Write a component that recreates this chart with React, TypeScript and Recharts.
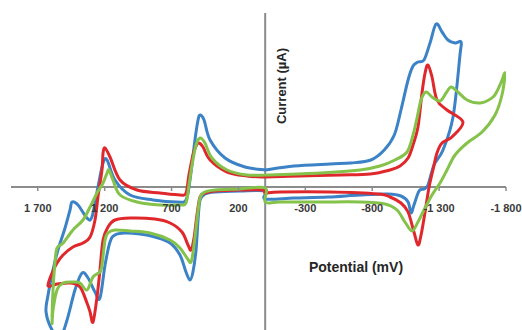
import { LineChart, Line, XAxis, YAxis, ReferenceLine } from "recharts";

// potential (mV) / current (µA) pairs, one closed loop per scan, starting at 0 mV
const BLUE_E = [
  0, -215, -485, -640, -790, -890, -965, -1015, -1068, -1105, -1142, -1187, -1232, -1277, -1322, -1366, -1419, -1464,
  -1456, -1404, -1329, -1262, -1217, -1187, -1150, -1112, -1090, -1068, -1015, -918, -709, -470, -215, 0,
  0, 188, 375, 450, 487, 502, 517, 540, 562, 592, 637, 711, 824, 936, 1048, 1123, 1160, 1197, 1235, 1272, 1324, 1369, 1422, 1481, 1534, 1593, 1638,
  1623, 1586, 1549, 1496, 1459, 1444, 1399, 1332, 1295, 1250, 1212, 1182, 1123, 1010, 839, 659, 592, 562, 525, 502, 487, 457, 412, 300, 151, 0,
];
const BLUE_I = [
  0.75, 1.75, 2.25, 2.5, 3.25, 5.75, 9.5, 15.75, 23.25, 26.75, 27.75, 28.25, 32.5, 37.25, 35.25, 33.25, 32.5, 32.75,
  29.5, 14, 5.75, 2, -3, -4, -4.5, -8, -10, -7.25, -5.75, -5.25, -5.5, -6, -6.25, -6.5,
  -4.5, -4.5, -4.75, -5.25, -6.75, -11.75, -19.25, -24.75, -26.75, -24.75, -20.5, -17.5, -16, -15.25, -15, -15.5, -17.25, -23, -31.25, -29.75, -26.25, -25, -29.25, -36.75, -41.25, -39.25, -34.75,
  -30.5, -24.25, -19.25, -13.75, -9.25, -7.25, -8, -11.25, -11, -3.5, 2.5, 3.25, -1.75, -5.5, -6.75, -7.25, -6.75, -1.75, 8.25, 13.25, 14.5, 13.25, 8.25, 3.75, 1.5, 0.75,
];

const RED_E = [
  0, -260, -560, -785, -933, -1008, -1068, -1105, -1142, -1172, -1195, -1217, -1247, -1284, -1359, -1478,
  -1396, -1322, -1284, -1254, -1225, -1195, -1165, -1142, -1112, -1068, -1015, -933, -843, -485, -110, 0,
  0, 188, 375, 450, 487, 510, 532, 554, 577, 622, 711, 824, 1010, 1123, 1175, 1212, 1235, 1257, 1287, 1309, 1332, 1384, 1459, 1556, 1623,
  1593, 1556, 1511, 1437, 1362, 1309, 1272, 1250, 1220, 1212, 1197, 1160, 1085, 958, 786, 637, 592, 570, 540, 517, 495, 465, 412, 285, 136, 0,
];
const RED_I = [
  -1, -0.75, -0.5, -0.25, 0.75, 1.75, 3.75, 7, 11.5, 20, 25, 27, 24, 18.25, 15.75, 12.75,
  9, 7.5, 5, 0.75, -3.5, -9.75, -15.5, -18, -14.75, -9.75, -7.5, -6, -5.25, -4.75, -4.75, -5,
  -4.25, -4.25, -4.5, -5, -6, -10.5, -16.25, -19.25, -18, -14.75, -12.5, -11.5, -11.25, -11.75, -13.5, -16.75, -24.25, -31, -37.25, -34.75, -32.5, -28.5, -27.5, -27.75, -28.25,
  -25, -22.5, -20.5, -18.5, -17.5, -16, -11.75, -6, 0.75, 5, 6.25, 4, -1.75, -4.25, -5, -5.5, -5, -0.5, 4.5, 6.75, 7.5, 6.5, 3.25, 0.25, -0.75, -1,
];

const GREEN_E = [
  0, -410, -710, -858, -970, -1060, -1105, -1135, -1165, -1202, -1247, -1307, -1352, -1389, -1441, -1509, -1606, -1703, -1755, -1793,
  -1770, -1718, -1621, -1509, -1419, -1359, -1307, -1247, -1187, -1142, -1097, -1045, -985, -896, -709, -410, -110, 0,
  0, 188, 375, 450, 487, 510, 532, 554, 584, 637, 711, 861, 1010, 1123, 1175, 1197, 1220, 1235, 1287, 1332, 1384, 1437, 1511, 1556, 1586, 1593,
  1586, 1571, 1556, 1511, 1437, 1362, 1309, 1257, 1212, 1182, 1167, 1138, 1085, 958, 786, 637, 592, 570, 547, 517, 487, 450, 398, 285, 136, 0,
];
const GREEN_I = [
  -0.5, 0, 0.75, 1.75, 3.25, 5.25, 9.5, 13.75, 18.25, 20.25, 19, 18, 20, 21.5, 20.25, 18.25, 17.5, 19, 22, 25,
  19.5, 14.5, 10.25, 7.5, 4.5, 0.75, -2.5, -5.5, -9.25, -12.25, -14.5, -12.25, -9.25, -7.75, -7.25, -7.25, -7.25, -7.25,
  -3.75, -4, -4.25, -4.75, -6.25, -11.75, -18, -22.25, -21.25, -18.75, -16.75, -15, -14.5, -14.25, -15, -16.75, -23, -24.75, -26, -29.25, -27.5, -27.25, -27.5, -29.25, -34.25, -37.5,
  -29.25, -22.25, -18.75, -17.5, -14.25, -11.75, -8.5, -5, -2.5, 0, 0.75, -1.75, -5.5, -7.25, -8, -8, -7.5, -3, 2, 7, 8.75, 7.5, 3.75, 0.75, -0.5, -0.5,
];

const X_TICKS = [1700, 1200, 700, 200, -300, -800, -1300, -1800];
const Y_TICKS = [40, 20, 0, -20];

const E_MIN = -1800;
const E_MAX = 1900;
const I_MIN = -40;
const I_MAX = 40;
const AXIS_CROSS_I = -3.5; // horizontal axis sits a little below zero current

const W = 522;
const H = 340;
const MARGIN = { top: 13, right: 16, bottom: 6, left: 11 };
const X_AXIS_H = 1;
const PLOT_W = W - MARGIN.left - MARGIN.right;
const PLOT_H = H - MARGIN.top - MARGIN.bottom - X_AXIS_H;
const CROSS_Y = MARGIN.top + ((I_MAX - AXIS_CROSS_I) / (I_MAX - I_MIN)) * PLOT_H;
const ZERO_X = MARGIN.left + (E_MAX / (E_MAX - E_MIN)) * PLOT_W;

const AXIS_COLOR = "#8c8c8c";
const FONT = '"Liberation Sans", Arial, sans-serif';

const SERIES = [
  { key: "blue", color: "#3b82c6", e: BLUE_E, i: BLUE_I },
  { key: "red", color: "#e0282c", e: RED_E, i: RED_I },
  { key: "green", color: "#84c24a", e: GREEN_E, i: GREEN_I },
];

// Catmull-Rom style smoothing that works for closed loops (points kept in data order)
function smoothCurve(context: any) {
  let pts: [number, number][] = [];
  return {
    areaStart() {},
    areaEnd() {},
    lineStart() {
      pts = [];
    },
    point(x: number, y: number) {
      pts.push([+x, +y]);
    },
    lineEnd() {
      if (!pts.length) return;
      context.moveTo(pts[0][0], pts[0][1]);
      const t = 1 / 6;
      for (let k = 0; k < pts.length - 1; k++) {
        const p0 = pts[k - 1] || pts[k];
        const p1 = pts[k];
        const p2 = pts[k + 1];
        const p3 = pts[k + 2] || p2;
        context.bezierCurveTo(
          p1[0] + (p2[0] - p0[0]) * t,
          p1[1] + (p2[1] - p0[1]) * t,
          p2[0] - (p3[0] - p1[0]) * t,
          p2[1] - (p3[1] - p1[1]) * t,
          p2[0],
          p2[1],
        );
      }
    },
  };
}

function fmtPotential(v: number): string {
  const abs = Math.abs(v);
  const body = abs >= 1000 ? `${Math.floor(abs / 1000)} ${String(abs % 1000).padStart(3, "0")}` : String(abs);
  return v < 0 ? `-${body}` : body;
}

function XTick(props: any) {
  const { x, payload } = props;
  return (
    <g>
      <line x1={x} x2={x} y1={CROSS_Y} y2={CROSS_Y + 4} stroke={AXIS_COLOR} strokeWidth={1.5} />
      <text
        x={x}
        y={CROSS_Y + 25}
        textAnchor="middle"
        fontFamily={FONT}
        fontWeight="bold"
        fontSize={11}
        fill="#3a3a3a"
      >
        {fmtPotential(payload.value)}
      </text>
    </g>
  );
}

function YTick(props: any) {
  const { y } = props;
  return <line x1={ZERO_X - 2} x2={ZERO_X + 2} y1={y} y2={y} stroke={AXIS_COLOR} strokeWidth={1.5} />;
}

export default function App() {
  return (
    <div
      style={{
        position: "absolute",
        left: 0,
        top: 0,
        width: 522,
        height: 330,
        overflow: "hidden",
        background: "#fff",
      }}
    >
      <LineChart width={W} height={H} margin={MARGIN}>
        <XAxis
          type="number"
          dataKey="e"
          domain={[E_MIN, E_MAX]}
          reversed
          allowDataOverflow
          ticks={X_TICKS}
          interval={0}
          height={X_AXIS_H}
          axisLine={false}
          tickLine={false}
          tick={(p: any) => <XTick {...p} />}
        />
        <YAxis
          type="number"
          domain={[I_MIN, I_MAX]}
          allowDataOverflow
          ticks={Y_TICKS}
          width={0}
          axisLine={false}
          tickLine={false}
          tick={(p: any) => <YTick {...p} />}
        />
        <ReferenceLine y={AXIS_CROSS_I} stroke={AXIS_COLOR} strokeWidth={2} />
        <ReferenceLine x={0} stroke={AXIS_COLOR} strokeWidth={2} />
        {SERIES.map((s) => (
          <Line
            key={s.key}
            data={s.e.map((e, idx) => ({ e, i: s.i[idx] }))}
            dataKey="i"
            stroke={s.color}
            strokeWidth={3}
            dot={false}
            activeDot={false}
            type={smoothCurve as any}
            isAnimationActive={false}
          />
        ))}
      </LineChart>

      <div
        style={{
          position: "absolute",
          left: 281,
          top: 86,
          transform: "translate(-50%, -50%) rotate(-90deg)",
          fontFamily: FONT,
          fontWeight: "bold",
          fontSize: 13,
          color: "#262626",
          whiteSpace: "nowrap",
        }}
      >
        Current (µA)
      </div>
      <div
        style={{
          position: "absolute",
          left: 356,
          top: 267,
          transform: "translate(-50%, -50%)",
          fontFamily: FONT,
          fontWeight: "bold",
          fontSize: 14,
          color: "#262626",
          whiteSpace: "nowrap",
        }}
      >
        Potential (mV)
      </div>
    </div>
  );
}
